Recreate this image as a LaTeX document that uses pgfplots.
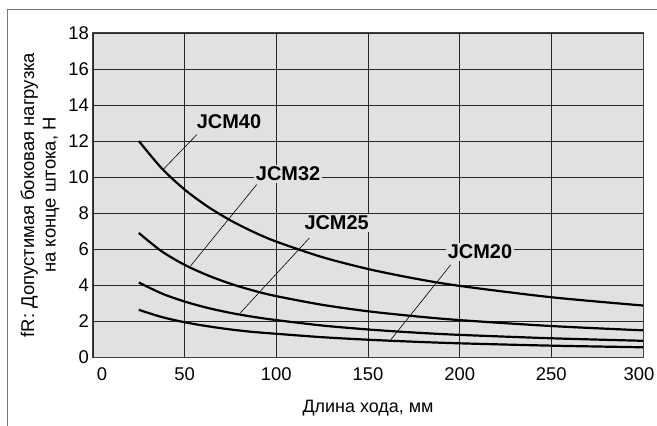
\documentclass[border=0pt]{standalone}
\usepackage{fontspec}
\setmainfont{Liberation Sans}
\usepackage{pgfplots}
\pgfplotsset{compat=1.18}
\definecolor{bg}{RGB}{225,225,225}
\definecolor{frame}{RGB}{120,120,120}
\begin{document}
\begin{tikzpicture}
\path[use as bounding box] (-93bp,-69bp) rectangle (564bp,357bp);
\draw[frame, line width=1bp] (-85bp,-69bp) -- (-85bp,347bp) -- (564bp,347bp);
\begin{axis}[
  scale only axis,
  width=550bp, height=324bp,
  xmin=0, xmax=300, ymin=0, ymax=18,
  xtick={0,50,100,150,200,250,300},
  xticklabels={\hspace*{18bp}0,50,100,150,200,250,300\hspace*{8bp}},
  ytick={0,2,4,6,8,10,12,14,16,18},
  major tick length=0pt,
  /pgf/number format/assume math mode=true,
  every tick label/.append style={font=\fontsize{18.5}{22}\selectfont},
  xticklabel style={yshift=-7bp},
  yticklabel style={xshift=-0.5bp},
  grid=major,
  major grid style={black!85, line width=0.9bp},
  axis background/.style={fill=bg},
  axis line style={black!75, line width=1bp},
  xlabel={Длина хода, мм},
  ylabel={fR: Допустимая боковая нагрузка\\на конце штока, Н},
  xlabel style={font=\fontsize{18}{21.5}\selectfont, at={(axis description cs:0.5,-0.157)}, anchor=center},
  ylabel style={font=\fontsize{18.5}{21.5}\selectfont, at={(axis description cs:-0.0965,0.5)}, anchor=center, align=center},
  clip=false,
]
% JCM40
\addplot[black, line width=2.2bp, smooth] coordinates {
(25,12.0) (37.5,10.48) (50,9.30) (62.5,8.36) (75,7.59) (87.5,6.95) (100,6.41) (125,5.55) (150,4.89) (175,4.37) (200,3.95) (250,3.32) (300,2.86)};
% JCM32
\addplot[black, line width=2.2bp, smooth] coordinates {
(25,6.89) (37.5,5.87) (50,5.12) (62.5,4.54) (75,4.07) (87.5,3.69) (100,3.38) (125,2.90) (150,2.54) (175,2.27) (200,2.05) (250,1.72) (300,1.48)};
% JCM25
\addplot[black, line width=2.2bp, smooth] coordinates {
(25,4.14) (37.5,3.53) (50,3.08) (62.5,2.73) (75,2.45) (87.5,2.23) (100,2.05) (125,1.75) (150,1.53) (175,1.36) (200,1.23) (250,1.04) (300,0.9)};
% JCM20
\addplot[black, line width=2.2bp, smooth] coordinates {
(25,2.62) (37.5,2.22) (50,1.93) (62.5,1.71) (75,1.53) (87.5,1.39) (100,1.29) (125,1.10) (150,0.96) (175,0.85) (200,0.76) (250,0.63) (300,0.54)};
% leader lines
\addplot[black, line width=0.6bp] coordinates {(56.7,12.36) (38.2,10.41)};
\addplot[black, line width=0.6bp] coordinates {(89.3,9.58) (53.3,5.07)};
\addplot[black, line width=0.6bp] coordinates {(118.0,6.61) (80.2,2.43)};
\addplot[black, line width=0.6bp] coordinates {(195.1,5.12) (162.6,0.98)};
% labels
\node[fill=bg, inner sep=2bp, font=\fontsize{20}{22}\selectfont\bfseries] at (axis cs:74.2,13.08) {JCM40};
\node[fill=bg, inner sep=2bp, font=\fontsize{20}{22}\selectfont\bfseries] at (axis cs:106.4,10.16) {JCM32};
\node[fill=bg, inner sep=2bp, font=\fontsize{20}{22}\selectfont\bfseries] at (axis cs:132.9,7.44) {JCM25};
\node[fill=bg, inner sep=2bp, font=\fontsize{20}{22}\selectfont\bfseries] at (axis cs:211.1,5.85) {JCM20};
\end{axis}
\end{tikzpicture}
\end{document}
